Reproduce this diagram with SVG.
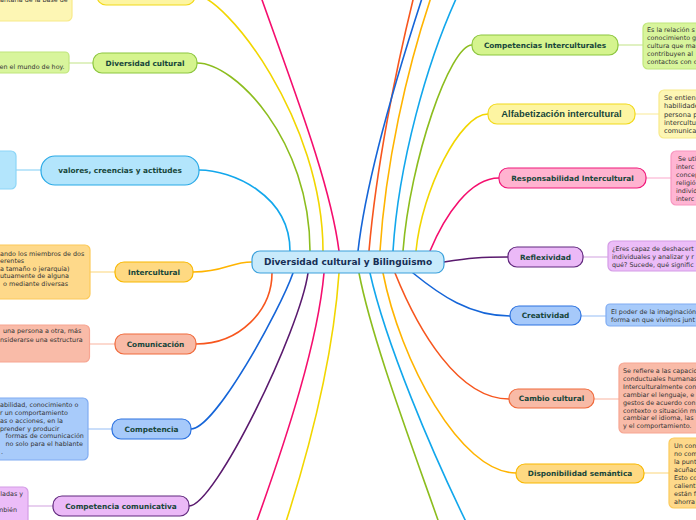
<svg xmlns="http://www.w3.org/2000/svg" width="696" height="520" viewBox="0 0 696 520">
<style>
.bg{fill:#ffffff}
.c{fill:none;stroke-width:1.6;stroke-linecap:round}
.l{fill:none;stroke-width:1.5}
.nt{font-family:"DejaVu Sans",Verdana,sans-serif;font-weight:bold;font-size:7.35px;fill:#17463a;text-anchor:middle}
.bt{font-family:"DejaVu Sans",Verdana,sans-serif;font-size:6.4px;fill:#333333}
.r{stroke-width:1.2}
.gr{fill:#d5f48e;stroke:#8cc63e}
.grb{fill:#d8f59c;stroke:#c0e67c}
.ye{fill:#fdf5a2;stroke:#f2d91a}
.yeb{fill:#fdf6b4;stroke:#f8ea8a}
.lb{fill:#b3e5fc;stroke:#29a9e6}
.lbb{fill:#b3e5fc;stroke:#8dd6f7}
.or{fill:#fed982;stroke:#f8b800}
.orb{fill:#fed98a;stroke:#fcca5a}
.sa{fill:#f8baa6;stroke:#f06a3c}
.sab{fill:#f9bba8;stroke:#f7a592}
.bl{fill:#a6c9fa;stroke:#2c72e0}
.blb{fill:#a8cbfa;stroke:#80acf2}
.pu{fill:#ebb9f7;stroke:#61297e}
.pub{fill:#ecbdf8;stroke:#d49ce6}
.pk{fill:#ffb3d0;stroke:#f0187a}
.pkb{fill:#ffb5d3;stroke:#f896c0}
</style>
<rect class="bg" x="0" y="0" width="696" height="520"/>
<g id="connectors">
<path class="c" stroke="#f2d600" d="M195,-5 C225,-5 323,120 323,251"/>
<path class="c" stroke="#8cbd1e" d="M197,63 C235,63 310,140 310,251"/>
<path class="c" stroke="#12a7ec" d="M199,170 C232,170 290,195 290,251"/>
<path class="c" stroke="#ffb400" d="M193,272 C225,272 230,262 252,262"/>
<path class="c" stroke="#f7561e" d="M196,344 C240,344 272,310 272,273"/>
<path class="c" stroke="#1565d8" d="M191,429 C215,429 280,310 293,273"/>
<path class="c" stroke="#5a1a6e" d="M189,506 C215,506 300,330 308,273"/>
<path class="c" stroke="#f50e6e" d="M324,273 C318,340 290,430 250,540"/>
<path class="c" stroke="#f2d600" d="M339,273 C333,360 310,450 280,540"/>
<path class="c" stroke="#8cbd1e" d="M359,273 C372,340 410,440 445,540"/>
<path class="c" stroke="#12a7ec" d="M370,273 C385,340 430,450 475,540"/>
<path class="c" stroke="#f50e6e" d="M339,251 C330,180 290,80 255,-20"/>
<path class="c" stroke="#f7561e" d="M369,251 C376,170 395,70 418,-20"/>
<path class="c" stroke="#1565d8" d="M358,251 C366,180 395,80 428,-20"/>
<path class="c" stroke="#ffb400" d="M380,251 C385,170 405,70 437,-20"/>
<path class="c" stroke="#12a7ec" d="M393,251 C398,170 425,60 465,-20"/>
<path class="c" stroke="#8cbd1e" d="M403,251 C410,160 450,45 472,45"/>
<path class="c" stroke="#f2d600" d="M416,251 C422,190 460,114 488,114"/>
<path class="c" stroke="#f50e6e" d="M430,251 C445,215 470,178 499,178"/>
<path class="c" stroke="#5a1a6e" d="M444,262 C470,258 480,257 508,257"/>
<path class="c" stroke="#1565d8" d="M413,273 C440,295 470,316 510,316"/>
<path class="c" stroke="#f7561e" d="M395,273 C418,330 458,399 509,399"/>
<path class="c" stroke="#ffb400" d="M383,273 C400,360 460,473 516,473"/>
<path class="l" stroke="#d6ecae" d="M69,63 H93"/>
<path class="l" stroke="#a9def8" d="M16,170 H41"/>
<path class="l" stroke="#fde3a6" d="M90,272 H115"/>
<path class="l" stroke="#fbcdbf" d="M89,344 H115"/>
<path class="l" stroke="#b9d3f8" d="M88,429 H112"/>
<path class="l" stroke="#e0c0ea" d="M28,506 H53"/>
<path class="l" stroke="#d6ecae" d="M618,45 H643"/>
<path class="l" stroke="#fbf1b8" d="M635,114 H659"/>
<path class="l" stroke="#fcc4dc" d="M646,178 H671"/>
<path class="l" stroke="#e0c0ea" d="M583,257 H608"/>
<path class="l" stroke="#b9d3f8" d="M581,316 H606"/>
<path class="l" stroke="#fbcdbf" d="M594,399 H619"/>
<path class="l" stroke="#fde3a6" d="M644,473 H669"/>
</g>
<g id="center">
<rect x="252" y="251" width="192" height="22" rx="8" fill="#c8eafb" stroke="#3aa0dc" stroke-width="1.2"/>
<text x="348" y="265.2" class="nt" style="font-size:9px;fill:#172f55">Diversidad cultural y Bilingüismo</text>
</g>
<g id="node-top-yellow">
<rect class="yeb r" x="-10" y="-30" width="82" height="51" rx="5"/>
<text class="bt" x="0" y="1.5">antaria de la base de</text>
<rect class="ye r" x="97" y="-15" width="98" height="20" rx="9"/>
</g>
<g id="node-diversidad">
<rect class="grb r" x="-10" y="52" width="79" height="21" rx="4"/>
<text class="bt" x="-0.5" y="68.5">en el mundo de hoy.</text>
<rect class="gr r" x="93" y="53" width="104" height="20" rx="9"/>
<text class="nt" x="145" y="65.7">Diversidad cultural</text>
</g>
<g id="node-valores">
<rect class="lbb r" x="-10" y="151" width="26" height="38" rx="5"/>
<rect class="lb r" x="41" y="156" width="158" height="29" rx="14"/>
<text class="nt" x="120" y="173.2">valores, creencias y actitudes</text>
</g>
<g id="node-intercultural">
<rect class="orb r" x="-10" y="245" width="100" height="54" rx="5"/>
<text class="bt" x="0" y="255.5">ando los miembros de dos</text>
<text class="bt" x="0" y="263">erentes</text>
<text class="bt" x="0" y="270.5">a tamaño o jerarquía)</text>
<text class="bt" x="0" y="278">utuamente de alguna</text>
<text class="bt" x="3" y="285.5">o mediante diversas</text>
<rect class="or r" x="115" y="262" width="78" height="20" rx="9"/>
<text class="nt" x="154" y="274.7">Intercultural</text>
</g>
<g id="node-comunicacion">
<rect class="sab r" x="-10" y="325" width="99.5" height="37" rx="5"/>
<text class="bt" x="3" y="333">una persona a otra, más</text>
<text class="bt" x="0" y="341.5">nsiderarse una estructura</text>
<rect class="sa r" x="115" y="334" width="81" height="20" rx="9"/>
<text class="nt" x="155.5" y="346.7">Comunicación</text>
</g>
<g id="node-competencia">
<rect class="blb r" x="-10" y="398" width="98" height="62" rx="5"/>
<text class="bt" x="0" y="407.2">abilidad, conocimiento o</text>
<text class="bt" x="0" y="415">r un comportamiento</text>
<text class="bt" x="0" y="422.8">as o acciones, en la</text>
<text class="bt" x="0" y="430.6">prender y producir</text>
<text class="bt" x="5.5" y="438.4">formas de comunicación</text>
<text class="bt" x="5.5" y="446.2">no solo para el hablante</text>
<text class="bt" x="1" y="454">.</text>
<rect class="bl r" x="112" y="419" width="79" height="20" rx="9"/>
<text class="nt" x="151.5" y="431.7">Competencia</text>
</g>
<g id="node-competencia-comunicativa">
<rect class="pub r" x="-10" y="487" width="38" height="45" rx="5"/>
<text class="bt" x="0.3" y="495.5">ladas y</text>
<text class="bt" x="-3" y="511.5">mbién</text>
<rect class="pu r" x="53" y="496" width="136" height="20" rx="9"/>
<text class="nt" x="121" y="508.7">Competencia comunicativa</text>
</g>
<g id="node-competencias-interculturales">
<rect class="gr r" x="472" y="35" width="146" height="20" rx="9"/>
<text class="nt" x="545" y="47.7">Competencias Interculturales</text>
<rect class="grb r" x="643" y="23" width="70" height="46" rx="5"/>
<text class="bt" x="647" y="31.5">Es la relación s</text>
<text class="bt" x="647" y="39.6">conocimiento g</text>
<text class="bt" x="647" y="47.7">cultura que ma</text>
<text class="bt" x="647" y="55.8">contribuyen al</text>
<text class="bt" x="647" y="63.9">contactos con o</text>
</g>
<g id="node-alfabetizacion">
<rect class="ye r" x="488" y="104" width="147" height="20" rx="9"/>
<text class="nt" x="561.5" y="117.4" style="font-family:'Liberation Sans',Arial,sans-serif;font-size:9.4px">Alfabetización intercultural</text>
<rect class="yeb r" x="659" y="90" width="60" height="48" rx="5"/>
<text class="bt" x="664" y="100" style="font-size:6.7px">Se entien</text>
<text class="bt" x="664" y="108.3" style="font-size:6.7px">habilidade</text>
<text class="bt" x="664" y="116.6" style="font-size:6.7px">persona p</text>
<text class="bt" x="664" y="124.9" style="font-size:6.7px">intercultu</text>
<text class="bt" x="664" y="133.2" style="font-size:6.7px">comunica</text>
</g>
<g id="node-responsabilidad">
<rect class="pk r" x="499" y="168" width="147" height="20" rx="9"/>
<text class="nt" x="572.5" y="180.7">Responsabilidad Intercultural</text>
<rect class="pkb r" x="671" y="151" width="60" height="54" rx="5"/>
<text class="bt" x="678" y="160.5">Se uti</text>
<text class="bt" x="676" y="168.5">interc</text>
<text class="bt" x="676" y="176.5">concep</text>
<text class="bt" x="676" y="184.5">religió</text>
<text class="bt" x="676" y="192.5">individ</text>
<text class="bt" x="676" y="200.5">interc</text>
</g>
<g id="node-reflexividad">
<rect class="pu r" x="508" y="247" width="75" height="20" rx="9"/>
<text class="nt" x="545.5" y="259.7">Reflexividad</text>
<rect class="pub r" x="608" y="241" width="100" height="30" rx="5"/>
<text class="bt" x="612" y="250.5">¿Eres capaz de deshacert</text>
<text class="bt" x="612" y="258.6">individuales y analizar y r</text>
<text class="bt" x="612" y="266.5">qué? Sucede, qué signific</text>
</g>
<g id="node-creatividad">
<rect class="bl r" x="510" y="306" width="71" height="19" rx="9"/>
<text class="nt" x="545.5" y="318.2">Creatividad</text>
<rect class="blb r" x="606" y="304" width="100" height="22" rx="4"/>
<text class="bt" x="611" y="314">El poder de la imaginación</text>
<text class="bt" x="611" y="321.5">forma en que vivimos junt</text>
</g>
<g id="node-cambio">
<rect class="sa r" x="509" y="389" width="85" height="19" rx="9"/>
<text class="nt" x="551.5" y="401.2">Cambio cultural</text>
<rect class="sab r" x="619" y="363" width="90" height="70" rx="5"/>
<text class="bt" x="623" y="373">Se refiere a las capacid</text>
<text class="bt" x="623" y="380.9">conductuales humanas</text>
<text class="bt" x="623" y="388.8">Interculturalmente con</text>
<text class="bt" x="623" y="396.7">cambiar el lenguaje, e</text>
<text class="bt" x="623" y="404.6">gestos de acuerdo con</text>
<text class="bt" x="623" y="412.5">contexto o situación m</text>
<text class="bt" x="623" y="420.4">cambiar el idioma, las</text>
<text class="bt" x="623" y="428.3">y el comportamiento.</text>
</g>
<g id="node-disponibilidad">
<rect class="or r" x="516" y="464" width="128" height="19" rx="9"/>
<text class="nt" x="580" y="476.2">Disponibilidad semántica</text>
<rect class="orb r" x="669" y="438" width="60" height="70" rx="5"/>
<text class="bt" x="674" y="447.5">Un con</text>
<text class="bt" x="674" y="455.5">no com</text>
<text class="bt" x="674" y="463.5">la punt</text>
<text class="bt" x="674" y="471.5">acuñad</text>
<text class="bt" x="674" y="479.5">Esto co</text>
<text class="bt" x="674" y="487.5">calient</text>
<text class="bt" x="674" y="495.5">están f</text>
<text class="bt" x="674" y="503.5">ahorra</text>
</g>
</svg>
